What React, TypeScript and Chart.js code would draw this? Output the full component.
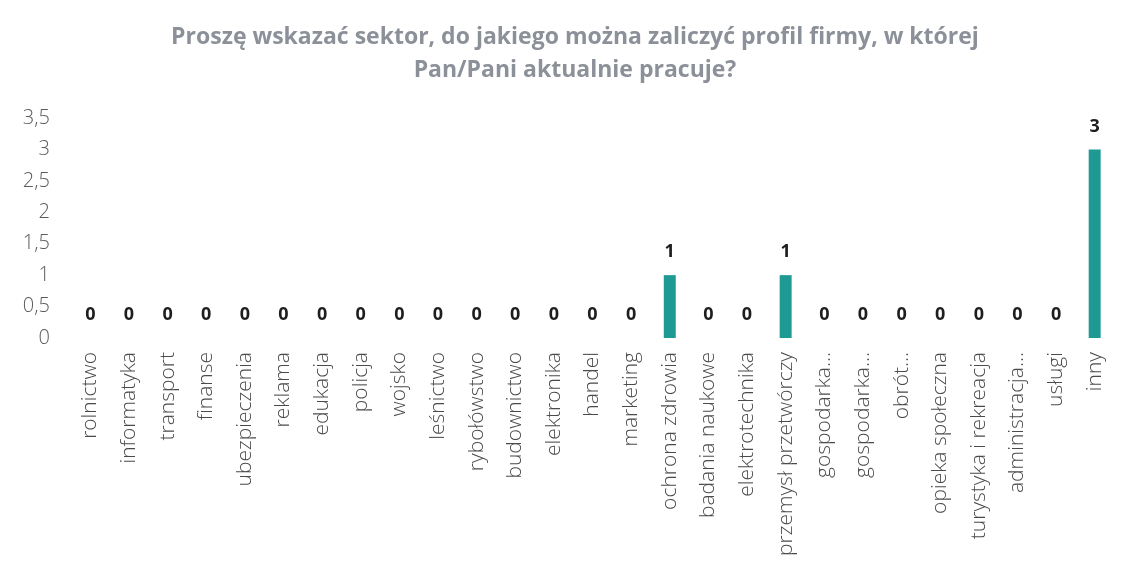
import React, { useEffect, useRef } from "react";
import { Chart, registerables } from "chart.js";

Chart.register(...registerables);

const titleLines: string[] = [
  "Proszę wskazać sektor, do jakiego można zaliczyć profil firmy, w której",
  "Pan/Pani aktualnie pracuje?",
];

const categories: string[] = [
  "rolnictwo",
  "informatyka",
  "transport",
  "finanse",
  "ubezpieczenia",
  "reklama",
  "edukacja",
  "policja",
  "wojsko",
  "leśnictwo",
  "rybołówstwo",
  "budownictwo",
  "elektronika",
  "handel",
  "marketing",
  "ochrona zdrowia",
  "badania naukowe",
  "elektrotechnika",
  "przemysł przetwórczy",
  "gospodarka...",
  "gospodarka...",
  "obrót...",
  "opieka społeczna",
  "turystyka i rekreacja",
  "administracja...",
  "usługi",
  "inny",
];

const values: number[] = [
  0, 0, 0, 0, 0, 0, 0, 0, 0, 0, 0, 0, 0, 0, 0, 1, 0, 0, 1, 0, 0, 0, 0, 0, 0, 0, 3,
];

const yMin = 0;
const yMax = 3.5;
const yStep = 0.5;

const valueLabelPlugin = {
  id: "valueLabels",
  afterDatasetsDraw(chart: any) {
    const ctx = chart.ctx;
    const meta = chart.getDatasetMeta(0);
    ctx.save();
    ctx.font = "bold 18px 'Open Sans'";
    ctx.fillStyle = "#1e1e1e";
    ctx.textAlign = "center";
    ctx.textBaseline = "middle";
    meta.data.forEach((bar: any, i: number) => {
      const v = values[i];
      ctx.fillText(String(v), bar.x, bar.y - 23);
    });
    ctx.restore();
  },
};

const titlePlugin = {
  id: "customTitle",
  afterDraw(chart: any) {
    const ctx = chart.ctx;
    ctx.save();
    ctx.font = "bold 23px 'Open Sans'";
    ctx.fillStyle = "#8c9099";
    ctx.textAlign = "center";
    ctx.textBaseline = "middle";
    titleLines.forEach((line, i) => {
      ctx.fillText(line, 575, 37 + i * 33);
    });
    ctx.restore();
  },
};

export default function App() {
  const ref = useRef<HTMLCanvasElement | null>(null);

  useEffect(() => {
    if (!ref.current) return;
    const chart = new Chart(ref.current, {
      type: "bar",
      data: {
        labels: categories,
        datasets: [
          {
            data: values,
            backgroundColor: "#1f9a92",
            barPercentage: 0.31,
            categoryPercentage: 1,
          },
        ],
      },
      options: {
        animation: false,
        responsive: false,
        maintainAspectRatio: false,
        layout: { padding: { left: 0, right: 21, top: 118, bottom: 0 } },
        plugins: {
          legend: { display: false },
          tooltip: { enabled: false },
          title: { display: false },
        },
        scales: {
          x: {
            grid: { display: false, drawTicks: false },
            border: { display: false },
            ticks: {
              autoSkip: false,
              maxRotation: 90,
              minRotation: 90,
              padding: 14,
              color: "#4a4a4a",
              font: { family: "'Open Sans'", size: 21, weight: "300" },
            },
            afterFit(scale: any) {
              scale.height = 229;
            },
          },
          y: {
            min: yMin,
            max: yMax,
            grid: { display: false, drawTicks: false },
            border: { display: false },
            ticks: {
              stepSize: yStep,
              padding: 21,
              color: "#5a5a5a",
              font: { family: "'Open Sans'", size: 20, weight: "300" },
              callback: (v: any) => String(v).replace(".", ","),
            },
            afterFit(scale: any) {
              scale.width = 71;
            },
          },
        },
      },
      plugins: [valueLabelPlugin, titlePlugin],
    });
    return () => chart.destroy();
  }, []);

  return (
    <div style={{ position: "fixed", left: 0, top: 0, width: 1135, height: 567, background: "#fff" }}>
      <canvas ref={ref} width={1135} height={567} style={{ width: 1135, height: 567 }} />
    </div>
  );
}
